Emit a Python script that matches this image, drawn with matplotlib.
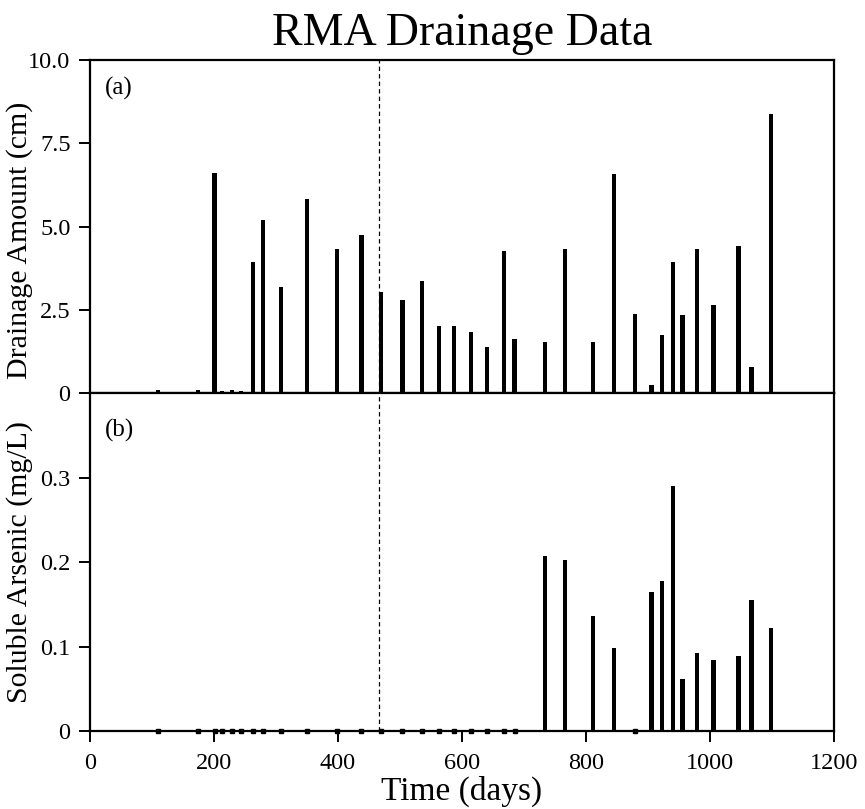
import matplotlib
matplotlib.use("Agg")
import matplotlib.pyplot as plt
import numpy as np

plt.rcParams['font.family'] = ['Liberation Serif', 'DejaVu Serif']

# Sampling days (shared by both panels)
days = [110, 174, 201, 213, 229, 244, 263, 279, 308, 350, 399, 438, 469, 504,
        536, 563, 587, 615, 640, 668, 685, 734, 766, 811, 845, 879, 906, 923,
        941, 956, 979, 1006, 1046, 1067, 1099]
# (a) Drainage amount (cm)
drainage = [0.10, 0.10, 6.60, 0.06, 0.08, 0.06, 3.93, 5.19, 3.19, 5.84, 4.31,
            4.76, 3.02, 2.79, 3.36, 2.01, 2.01, 1.82, 1.38, 4.26, 1.63, 1.52,
            4.33, 1.54, 6.57, 2.37, 0.24, 1.74, 3.93, 2.34, 4.31, 2.64, 4.41,
            0.79, 8.37]
# (b) Soluble arsenic (mg/L)
arsenic = [0, 0, 0, 0, 0, 0, 0, 0, 0, 0, 0, 0, 0, 0, 0, 0, 0, 0, 0, 0, 0,
           0.207, 0.202, 0.136, 0.098, 0, 0.164, 0.178, 0.290, 0.061, 0.092,
           0.084, 0.089, 0.155, 0.122]
event_day = 467

x_ticks = [0, 200, 400, 600, 800, 1000, 1200]
top_ticks = [0, 2.5, 5.0, 7.5, 10.0]
top_ticklabels = ['0', '2.5', '5.0', '7.5', '10.0']
bot_ticks = [0, 0.1, 0.2, 0.3]
bot_ticklabels = ['0', '0.1', '0.2', '0.3']

fig = plt.figure(figsize=(8.65, 8.09), dpi=100)
L, R = 0.104, 0.964
ax1 = fig.add_axes([L, 0.5142, R - L, 0.9258 - 0.5142])
ax2 = fig.add_axes([L, 0.0964, R - L, 0.5142 - 0.0964])

barw = 7
for ax in (ax1, ax2):
    for s in ax.spines.values():
        s.set_linewidth(1.6)
    ax.set_xlim(0, 1200)
    ax.axvline(event_day, color='black', lw=0.9, ls=(0, (3.5, 2.5)))

ax1.bar(days, drainage, width=barw, color='black', align='center')
ax1.set_ylim(0, 10)
ax1.set_yticks(top_ticks)
ax1.set_yticklabels(top_ticklabels)
ax1.set_xticks([])
ax1.set_ylabel('Drainage Amount (cm)', fontsize=21.5)
ax1.yaxis.set_label_coords(-0.076, 0.46)
ax1.text(0.02, 0.915, '(a)', transform=ax1.transAxes, fontsize=18,
         va='center', ha='left')

d = np.array(days)
a = np.array(arsenic)
ax2.bar(d, a, width=barw, color='black', align='center')
ax2.plot(d[a == 0], a[a == 0], 's', color='black', ms=2.5, clip_on=False)
ax2.set_ylim(0, 0.4)
ax2.set_yticks(bot_ticks)
ax2.set_yticklabels(bot_ticklabels)
ax2.set_xticks(x_ticks)
ax2.set_xticklabels([str(t) for t in x_ticks])
ax2.set_ylabel('Soluble Arsenic (mg/L)', fontsize=21.5)
ax2.yaxis.set_label_coords(-0.076, 0.5)
ax2.set_xlabel('Time (days)', fontsize=24, labelpad=1)
ax2.text(0.02, 0.89, '(b)', transform=ax2.transAxes, fontsize=18,
         va='center', ha='left')

for ax in (ax1, ax2):
    ax.tick_params(direction='out', length=8, width=1.4, labelsize=17.5, pad=6)
ax2.tick_params(axis='x', pad=8)

fig.suptitle('RMA Drainage Data', fontsize=33, x=(L + R) / 2, y=0.985, va='top')

fig.savefig('out.png', dpi=100)
